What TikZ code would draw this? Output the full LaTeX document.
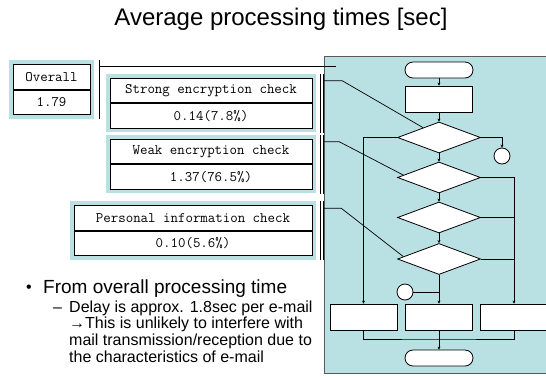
\documentclass[tikz,border=0pt]{standalone}
\usepackage{fontspec}
\setmainfont{Liberation Sans}
\usetikzlibrary{shapes.geometric,arrows.meta,positioning,fit,backgrounds,calc}
\definecolor{panelblue}{RGB}{185,224,227}
\definecolor{edgegray}{RGB}{90,90,90}
\tikzset{
  cell/.style={draw=black,fill=white,line width=0.8pt,inner sep=0pt,
    minimum height=24.5pt,font=\fontsize{14.5}{15}\ttfamily},
  frame/.style={fill=panelblue,inner sep=4pt},
  term/.style={draw,fill=white,rounded corners=8pt,minimum width=68pt,
    minimum height=16pt,inner sep=0pt,line width=0.8pt},
  proc/.style={draw,fill=white,minimum width=67pt,minimum height=26pt,
    inner sep=0pt,line width=0.8pt},
  cond/.style={diamond,draw,fill=white,minimum width=83pt,minimum height=31pt,
    inner sep=0pt,line width=0.8pt},
  conn/.style={circle,draw,fill=white,minimum size=16pt,inner sep=0pt,line width=0.8pt},
  wire/.style={line width=0.7pt},
  flow/.style={wire,-{Stealth[length=3pt,width=3pt]}},
  subtext/.style={anchor=base west,inner sep=0pt,font=\fontsize{16}{17}\selectfont},
}
\begin{document}
\begin{tikzpicture}[x=1pt,y=-1pt]
  \useasboundingbox (0,0) rectangle (546,376);

  \node[anchor=base,font=\fontsize{24}{28}\selectfont] (title) at (281,25) {Average processing times [sec]};

  % timing boxes
  \node[cell,minimum width=77pt] (overallA) at (51.5,77) {Overall};
  \node[cell,minimum width=77pt,below=0pt of overallA] (overallB) {1.79};
  \node[cell,minimum width=202pt] (strongA) at (211,90.5) {Strong encryption check};
  \node[cell,minimum width=202pt,below=0pt of strongA] (strongB) {0.14(7.8\%)};
  \node[cell,minimum width=202pt] (weakA) at (211,151.5) {Weak encryption check};
  \node[cell,minimum width=202pt,below=0pt of weakA] (weakB) {1.37(76.5\%)};
  \node[cell,minimum width=238pt] (personalA) at (193,218) {Personal information check};
  \node[cell,minimum width=238pt,below=0pt of personalA] (personalB) {0.10(5.6\%)};
  \begin{scope}[on background layer]
    \node[frame,fit=(overallA)(overallB)] (overallF) {};
    \node[frame,fit=(strongA)(strongB)] (strongF) {};
    \node[frame,fit=(weakA)(weakB)] (weakF) {};
    \node[frame,fit=(personalA)(personalB)] (personalF) {};
  \end{scope}

  % flow chart
  \node[draw=edgegray,line width=1.2pt,fill=panelblue,anchor=north west,
    minimum width=226pt,minimum height=317pt] (panel) at (324,56) {};
  \node[term] (start) at (439,70) {};
  \node[proc] (prep) at (439,99) {};
  \node[cond] (d1) at (439,137.5) {};
  \node[cond] (d2) at (439,177.5) {};
  \node[cond] (d3) at (439,217.5) {};
  \node[cond] (d4) at (439,259) {};
  \node[conn] (c1) at (502,156) {};
  \node[conn] (c2) at (405,292) {};
  \node[proc] (outL) at (363.5,317) {};
  \node[proc] (outM) at (439,317) {};
  \node[proc] (outR) at (514,317) {};
  \node[term] (stop) at (439,358) {};
  \coordinate (merge) at (439,339);

  \draw[flow] (start) -- (prep);
  \draw[flow] (prep) -- (d1);
  \draw[flow] (d1) -- (d2);
  \draw[flow] (d2) -- (d3);
  \draw[flow] (d3) -- (d4);
  \draw[flow] (d4) -- (outM);
  \draw[flow] (d1.east) -| (c1);
  \draw[flow] (d1.west) -| (outL);
  \draw[flow] (d2.east) -| (outR);
  \draw[wire] (d3.east) -- (d3.east -| outR);
  \draw[wire] (d4.east) -- (d4.east -| outR);
  \draw[wire] (c2) -- (c2 -| outM);
  \draw[wire] (outL) |- (merge) -| (outR);
  \draw[flow] (outM) -- (stop);

  % brackets and leaders
  \draw[wire] ([xshift=5pt]overallF.north east) -- ([xshift=5pt]overallF.south east);
  \draw[wire] ([xshift=5pt,yshift=-6pt]overallF.north east) -- ++(236,0);
  \foreach \f in {strongF,weakF,personalF}{
    \draw[wire] ([xshift=4pt]\f.north east) -- ([xshift=4pt]\f.south east);
    \draw[wire] ([xshift=6.5pt]\f.north east) -- ([xshift=6.5pt]\f.south east);
  }
  \draw[wire] ([xshift=6.5pt,yshift=-7pt]strongF.north east) -- ++(19,0) -- ($(d1.west)!0.62!(d1.north)$);
  \draw[wire] ([xshift=6.5pt,yshift=-7pt]weakF.north east) -- ++(16,0) -- ($(d2.west)!0.15!(d2.north)$);
  \draw[wire] ([xshift=6.5pt,yshift=-7pt]personalF.north east) -- ++(18,0) -- ($(d4.west)!0.15!(d4.north)$);

  % notes
  \node[anchor=base,inner sep=0pt,font=\fontsize{16}{17}\selectfont] (dot) at (29,292) {•};
  \node[anchor=base west,inner sep=0pt,font=\fontsize{19}{22}\selectfont] (from) at (43,293) {From overall processing time};
  \node[subtext] (dash) at (53,312) {–};
  \node[subtext] (lineA) at (69,312) {Delay is approx. 1.8sec per e-mail};
  \node[subtext] (lineB) at (69,328.5) {→This is unlikely to interfere with};
  \node[subtext] (lineC) at (69,345) {mail transmission/reception due to};
  \node[subtext] (lineD) at (69,362) {the characteristics of e-mail};
\end{tikzpicture}
\end{document}
